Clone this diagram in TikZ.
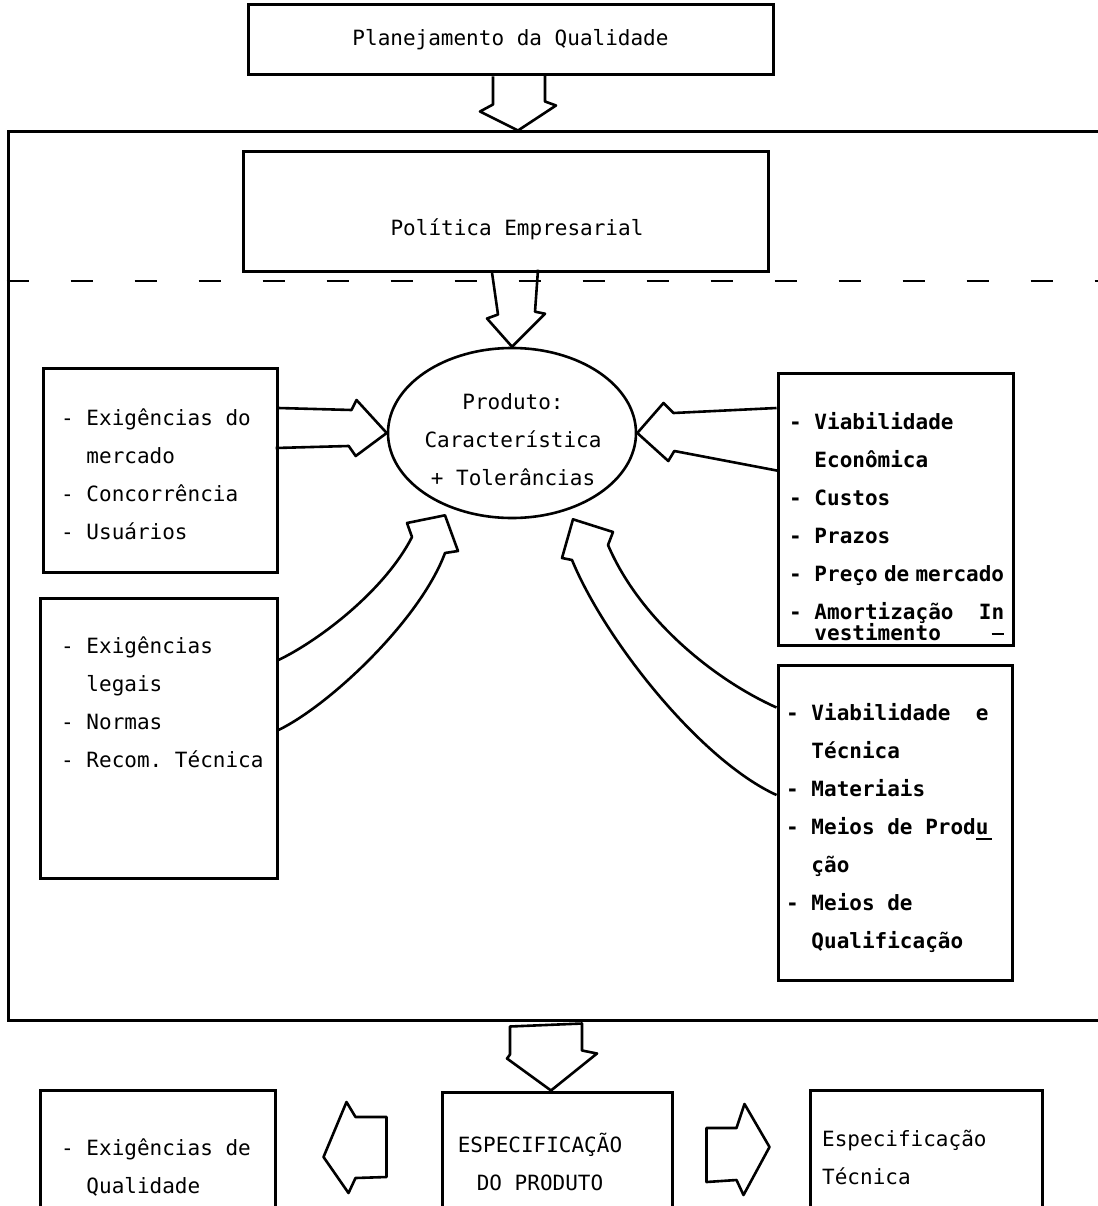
\documentclass[tikz,border=0pt]{standalone}
\usepackage{fontspec}
\newfontfamily\tw{DejaVu Sans Mono}
\usetikzlibrary{calc,shapes.geometric}
\newcommand\twf{\tw\frenchspacing\fontsize{21pt}{38pt}\selectfont}
\newcommand\ind{\hphantom{-~}}
\tikzset{
  box/.style={draw, line width=3pt, inner sep=0pt},
  lst/.style={font=\twf, align=left, inner sep=0pt, anchor=north west},
  lstb/.style={lst, font=\twf\bfseries},
  barrow/.style={draw, line width=2.6pt, line join=round},
  sepline/.style={line width=1.2pt, dash pattern=on 22pt off 42pt},
}
\begin{document}
\begin{tikzpicture}[x=1pt, y=-1pt]
  \useasboundingbox (0,0) rectangle (1097,1206);
  % boxes
  \node[box, font=\twf, minimum width=525pt, minimum height=70pt] (plan) at (510.5,40) {Planejamento da Qualidade};
  \node[box, minimum width=1096pt, minimum height=888pt] (frame) at (556,576) {};
  \node[box, minimum width=525pt, minimum height=119pt] (pol) at (505.5,211.5) {};
  \node[font=\twf, inner sep=0pt] (pol-t) at (517,229) {Política Empresarial};
  \draw[sepline] (frame.west |- 0,281) -- (frame.east |- 0,281);
  \node[box, ellipse, line width=2.6pt, minimum width=248pt, minimum height=170pt] (prod) at (512,433) {};
  \node[font=\twf, align=center, inner sep=0pt] (prod-t) at (513,439.5) {Produto:\\Característica\\+ Tolerâncias};
  \node[box, minimum width=234pt, minimum height=204pt] (mkt) at (160,470) {};
  \node[lst] (mkt-t) at (61,408.6) {-~Exigências do\\\ind mercado\\-~Concorrência\\-~Usuários};
  \node[box, minimum width=237pt, minimum height=280pt] (legal) at (158.5,738) {};
  \node[lst] (legal-t) at (61,636.6) {-~Exigências\\\ind legais\\-~Normas\\-~Recom.~Técnica};
  \node[box, minimum width=235pt, minimum height=272pt] (eco) at (895.5,509) {};
  \node[lstb] (eco-t) at (789,412.6) {-~Viabilidade\\\ind Econômica\\-~Custos\\-~Prazos\\-~Preço\hspace{0.3em}de\hspace{0.3em}mercado\\-~Amortização~~I\makebox[0pt][l]{\rule[-0.72em]{0.6em}{2pt}}n\\[-17pt]\ind vestimento};
  \node[box, minimum width=234pt, minimum height=315pt] (tec) at (895,822.5) {};
  \node[lstb] (tec-t) at (786,703.6) {-~Viabilidade~~e\\\ind Técnica\\-~Materiais\\-~Meios de Prod\makebox[0pt][l]{\rule[-0.25em]{0.75em}{2pt}}u\\\ind ção\\-~Meios de\\\ind Qualificação};
  \node[box, minimum width=230pt, minimum height=130pt] (spec) at (557,1157) {};
  \node[font=\twf, align=center, inner sep=0pt] (spec-t) at (540,1162) {ESPECIFICAÇÃO\\DO PRODUTO};
  \node[box, minimum width=235pt, minimum height=130pt] (qual) at (157.5,1155) {};
  \node[lst] (qual-t) at (61,1138.6) {-~Exigências de\\\ind Qualidade};
  \node[box, minimum width=232pt, minimum height=130pt] (tspec) at (926,1155) {};
  \node[lst] (tspec-t) at (822,1129.6) {Especificação\\Técnica};
  % block arrows
  \draw[barrow] ($(plan.south)+(-17.5,0)$) -- ++(0,28) -- ++(-13,7) -- (518,0 |- frame.north) -- ++(38,-25) -- ++(-11,-4) -- ++(0,-28);
  \draw[barrow] ($(pol.south)+(-13.5,0)$) -- ++(6,42) -- ++(-11,4) -- (prod.north) -- ++(33,-33) -- ++(-10,-2) -- ++(3,-42);
  \draw[barrow] ($(mkt.east)+(0,-62)$) -- ++(73,2) -- ++(5,-10) -- (prod.west) -- ++(-31,23) -- ++(-7,-10) -- ++(-73,2);
  \draw[barrow] ($(eco.west)+(0,-101)$) -- ++(-103,5) -- ++(-10,-10) -- (prod.east) -- ++(31,28) -- ++(6,-10) -- ++(105,20);
  \draw[barrow] ($(legal.east)+(0,-78)$) .. controls (320,640) and (385,590) .. (412,537) -- (407,523) -- ($(prod.south)+(-67,-4)$) -- (458,551) -- (445,553) .. controls (420,620) and (330,705) .. ($(legal.east)+(0,-8)$);
  \draw[barrow] ($(tec.west)+(0,-115)$) .. controls (715,680) and (640,620) .. (608,545) -- (613,532) -- ($(prod.south)+(61,0)$) -- (562,558) -- (572,560) .. controls (605,640) and (700,760) .. ($(tec.west)+(0,-27.5)$);
  \draw[barrow] ($(frame.south)+(-46,5)$) -- ++(0,28) -- ++(-3,4) -- (551,0 |- spec.north) -- ++(46,-37) -- ++(-15,-3) -- ++(0,-27) -- cycle;
  \draw[barrow] ($(spec.west)+(-54,-40)$) -- ++(-31,0) -- ++(-9,-15) -- ++(-23,55) -- ++(25,36) -- ++(7,-15) -- ++(31,-1) -- cycle;
  \draw[barrow] ($(spec.east)+(33,-29)$) -- ++(30,0) -- ++(8,-24) -- ++(25,43) -- ++(-26,48) -- ++(-7,-15) -- ++(-30,2) -- cycle;
\end{tikzpicture}
\end{document}
